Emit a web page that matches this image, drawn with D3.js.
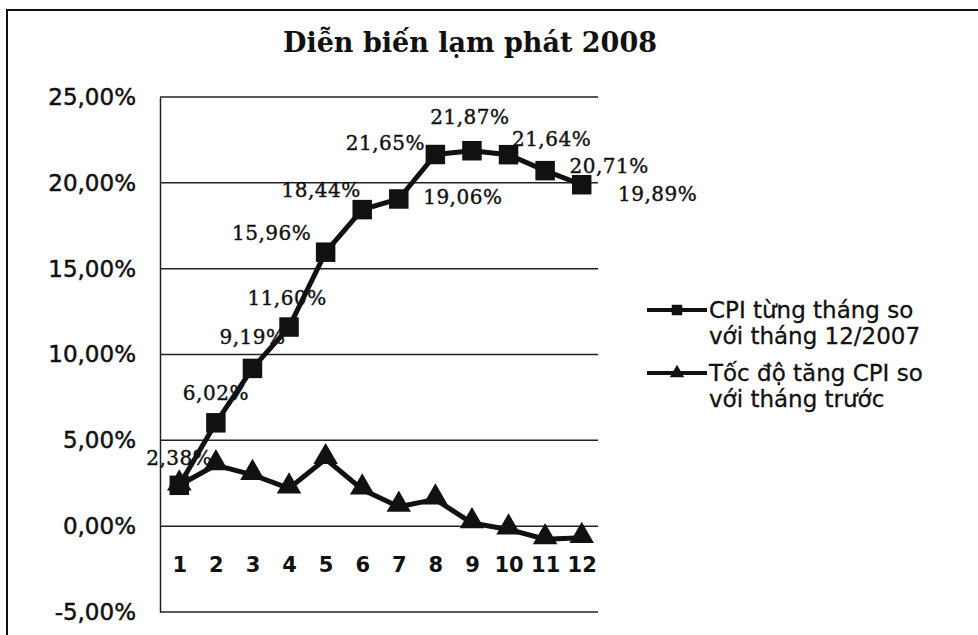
<!DOCTYPE html>
<html>
<head>
<meta charset="utf-8">
<script src="https://cdn.jsdelivr.net/npm/d3@7"></script>
<style>
  body { margin: 0; background: #fff; }
  svg { display: block; }
</style>
</head>
<body>
<svg id="chart" width="978" height="635"></svg>
<script>
var months = [1, 2, 3, 4, 5, 6, 7, 8, 9, 10, 11, 12];
// CPI so voi thang 12/2007 (%)
var cpiVsDec = [2.38, 6.02, 9.19, 11.60, 15.96, 18.44, 19.06, 21.65, 21.87, 21.64, 20.71, 19.89];
// toc do tang CPI so voi thang truoc (%)
var cpiMonthly = [2.38, 3.56, 2.99, 2.20, 3.91, 2.14, 1.13, 1.56, 0.18, -0.19, -0.76, -0.68];
var yTicks = [-5, 0, 5, 10, 15, 20, 25];
var seriesNames = [
  ["CPI từng tháng so", "với tháng 12/2007"],
  ["Tốc độ tăng CPI so", "với tháng trước"]
];

// where each data label sits relative to its point (as in the scan)
var labelNudge = [[0, -27], [0, -30], [0, -31], [-2, -29], [-54, -19], [-41, -20],
  [64, -2], [-50, -12], [-2, -34], [43, -16], [64, -5], [76, 9]];

var svg = d3.select("#chart");

var xSl = d3.scalePoint().domain(months).range([161, 600]).padding(0.5);
var ySl = d3.scaleLinear().domain([-5, 25]).range([612, 97]);

var fmt = function (v) {
  return d3.format(".2f")(v).replace(".", ",").replace("\u2212", "-") + "%";
};

// outer frame
svg.append("path")
  .attr("d", "M7,640 V10 H980")
  .attr("fill", "none")
  .attr("stroke", "#111")
  .attr("stroke-width", 2);

svg.append("text")
  .attr("x", 470)
  .attr("y", 52)
  .attr("text-anchor", "middle")
  .style("font-family", "'DejaVu Serif'")
  .style("font-weight", "bold")
  .style("font-size", "27px")
  .attr("fill", "#111")
  .text("Diễn biến lạm phát 2008");

// gridlines
svg.append("g")
  .selectAll("line")
  .data(yTicks)
  .enter()
  .append("line")
  .attr("x1", 160)
  .attr("x2", 598)
  .attr("y1", d => ySl(d))
  .attr("y2", d => ySl(d))
  .attr("stroke", "#222")
  .attr("stroke-width", 1.5);

var yAxis = svg.append("g")
  .attr("transform", "translate(160,0)")
  .call(d3.axisLeft(ySl).tickValues(yTicks).tickSize(0).tickPadding(24).tickFormat(fmt));
yAxis.select(".domain").attr("stroke", "#222").attr("stroke-width", 1.5);
yAxis.selectAll("text")
  .style("font-family", "'DejaVu Sans'")
  .style("font-size", "23px")
  .attr("fill", "#111")
  .attr("stroke", "#111")
  .attr("stroke-width", 0.5);

var xAxis = svg.append("g")
  .attr("transform", "translate(0," + (ySl(0) + 31) + ")")
  .call(d3.axisBottom(xSl).tickSize(0).tickPadding(0));
xAxis.select(".domain").remove();
xAxis.selectAll("text")
  .style("font-family", "'DejaVu Sans'")
  .style("font-weight", "bold")
  .style("font-size", "21px")
  .attr("fill", "#111");

// data labels sit under the lines
svg.append("g")
  .selectAll("text")
  .data(cpiVsDec)
  .enter()
  .append("text")
  .attr("x", (d, i) => xSl(months[i]) + labelNudge[i][0])
  .attr("y", (d, i) => ySl(d) + labelNudge[i][1])
  .attr("text-anchor", "middle")
  .attr("dominant-baseline", "central")
  .style("font-family", "'DejaVu Serif'")
  .style("font-size", "20px")
  .style("letter-spacing", "0.5px")
  .attr("fill", "#111")
  .attr("stroke", "#111")
  .attr("stroke-width", 0.4)
  .text(d => fmt(d));

var line = d3.line()
  .x((d, i) => xSl(months[i]))
  .y(d => ySl(d));

[cpiVsDec, cpiMonthly].forEach(function (vals) {
  svg.append("path")
    .datum(vals)
    .attr("d", line)
    .attr("fill", "none")
    .attr("stroke", "#111")
    .attr("stroke-width", 5)
    .attr("stroke-linejoin", "round");
});

var square = d3.symbol().type(d3.symbolSquare).size(380);
var triangle = d3.symbol().type(d3.symbolTriangle).size(260);

svg.append("g")
  .selectAll("path")
  .data(cpiVsDec)
  .enter()
  .append("path")
  .attr("d", square)
  .attr("transform", (d, i) => "translate(" + xSl(months[i]) + "," + ySl(d) + ")")
  .attr("fill", "#111");

svg.append("g")
  .selectAll("path")
  .data(cpiMonthly)
  .enter()
  .append("path")
  .attr("d", triangle)
  .attr("transform", (d, i) => "translate(" + xSl(months[i]) + "," + (ySl(d) - 2) + ")")
  .attr("fill", "#111");

// legend
var legend = svg.append("g").attr("transform", "translate(647,0)");
var legendY = [310, 373];
var markers = [d3.symbol().type(d3.symbolSquare).size(110), d3.symbol().type(d3.symbolTriangle).size(90)];

seriesNames.forEach(function (lines, k) {
  var g = legend.append("g").attr("transform", "translate(0," + legendY[k] + ")");
  g.append("line")
    .attr("x1", 0)
    .attr("x2", 60)
    .attr("stroke", "#111")
    .attr("stroke-width", 4);
  g.append("path")
    .attr("d", markers[k])
    .attr("transform", "translate(30,0)")
    .attr("fill", "#111");
  g.selectAll("text")
    .data(lines)
    .enter()
    .append("text")
    .attr("x", 62)
    .attr("y", (d, j) => j * 26)
    .attr("dominant-baseline", "central")
    .style("font-family", "'DejaVu Sans'")
    .style("font-size", "23px")
    .attr("fill", "#111")
    .attr("stroke", "#111")
    .attr("stroke-width", 0.3)
    .text(d => d);
});
</script>
</body>
</html>
